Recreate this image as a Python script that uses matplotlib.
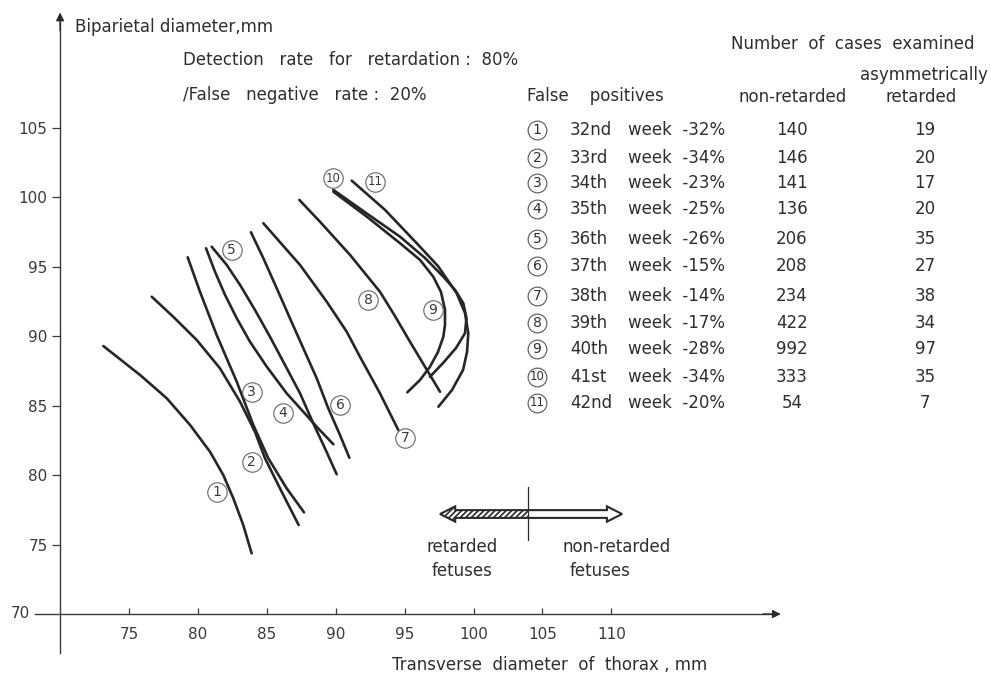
import numpy as np
import matplotlib.pyplot as plt
from matplotlib.patches import Polygon

plt.rcParams['font.family'] = ['DejaVu Sans']
plt.rcParams['hatch.linewidth'] = 1.2

W, H = 991, 676
INK = '#2e2e2e'

# transverse thorax diameter (mm) vs biparietal diameter (mm), one curve per week
w32_x = [73.14, 75.80, 77.74, 79.43, 80.88, 81.84, 82.57, 83.29, 83.90]
w32_y = [89.29, 87.21, 85.53, 83.61, 81.68, 80.01, 78.33, 76.41, 74.37]
w33_x = [76.65, 78.21, 79.91, 81.60, 83.06, 84.14, 84.87, 86.08, 87.31]
w33_y = [92.84, 91.40, 89.73, 87.69, 85.28, 83.12, 81.21, 78.80, 76.41]
w34_x = [79.26, 80.15, 81.36, 82.82, 84.02, 85.11, 86.44, 87.70]
w34_y = [95.68, 93.20, 90.09, 86.72, 83.61, 81.21, 79.05, 77.32]
w35_x = [80.59, 81.24, 81.97, 82.82, 83.78, 85.00, 86.44, 87.65, 88.62, 89.83]
w35_y = [96.33, 94.64, 92.97, 91.29, 89.60, 87.80, 85.89, 84.56, 83.48, 82.22]
w36_x = [81.00, 82.09, 83.06, 84.14, 85.23, 86.32, 87.41, 88.37, 89.22, 90.07]
w36_y = [96.44, 95.13, 93.69, 91.89, 89.96, 87.93, 85.89, 83.73, 81.93, 80.06]
w37_x = [83.85, 84.75, 85.72, 86.68, 87.65, 88.62, 89.46, 90.31, 90.99]
w37_y = [97.48, 95.61, 93.45, 91.29, 89.13, 86.97, 84.81, 82.89, 81.25]
w38_x = [84.75, 87.41, 89.35, 90.80, 91.76, 93.21, 94.54]
w38_y = [98.13, 95.13, 92.48, 90.32, 88.52, 85.89, 83.25]
w39_x = [87.36, 88.86, 91.04, 93.21, 94.30, 95.39, 97.57]
w39_y = [99.81, 98.24, 95.85, 93.20, 91.45, 89.60, 86.00]
w40_x = [89.83, 92.20, 94.67, 96.12, 97.08, 97.64, 97.93, 97.93, 97.81, 97.42, 96.84, 96.12, 95.20]
w40_y = [100.40, 98.65, 96.69, 95.49, 94.28, 93.18, 91.89, 90.81, 89.96, 88.86, 87.80, 86.85, 85.96]
w41_x = [89.83, 92.20, 94.67, 96.48, 97.81, 98.66, 99.26, 99.49, 99.38, 98.73, 97.79, 96.84]
w41_y = [100.53, 98.87, 97.16, 95.63, 94.28, 93.33, 92.37, 91.31, 90.21, 89.15, 88.07, 87.08]
w42_x = [91.16, 93.58, 95.88, 97.42, 98.78, 99.38, 99.62, 99.53, 99.24, 98.44, 97.45]
w42_y = [101.20, 99.09, 96.69, 95.05, 93.09, 91.67, 90.21, 88.86, 87.57, 86.13, 84.92]

curves_x = [w32_x, w33_x, w34_x, w35_x, w36_x, w37_x, w38_x, w39_x, w40_x, w41_x, w42_x]
curves_y = [w32_y, w33_y, w34_y, w35_y, w36_y, w37_y, w38_y, w39_y, w40_y, w41_y, w42_y]

# where the circled curve numbers sit
mark_x = [81.36, 83.90, 83.90, 86.15, 82.45, 90.31, 95.03, 92.37, 97.04, 89.83, 92.85]
mark_y = [78.80, 80.96, 86.00, 84.49, 96.21, 85.05, 82.67, 92.61, 91.89, 101.37, 101.12]

# table on the right
weeks = ['32nd', '33rd', '34th', '35th', '36th', '37th', '38th', '39th', '40th', '41st', '42nd']
false_pos = [32, 34, 23, 25, 26, 15, 14, 17, 28, 34, 20]
n_non_retarded = [140, 146, 141, 136, 206, 208, 234, 422, 992, 333, 54]
n_asym_retarded = [19, 20, 17, 20, 35, 27, 38, 34, 97, 35, 7]
row_y = [130, 158, 183, 209, 239, 266, 296, 323, 349, 377, 403]

xticks = [75, 80, 85, 90, 95, 100, 105, 110]
yticks = [75, 80, 85, 90, 95, 100, 105]

fig = plt.figure(figsize=(W / 100, H / 100), dpi=100)
ax = fig.add_axes([0, 0, 1, 1])
ax.set_xlim(65.64, 137.55)
ax.set_ylim(65.54, 114.20)
ax.patch.set_alpha(0)

for s in ['top', 'right']:
    ax.spines[s].set_visible(False)
ax.spines['left'].set_position(('data', 70))
ax.spines['bottom'].set_position(('data', 70))
ax.spines['left'].set_bounds(67.19, 112.6)
ax.spines['bottom'].set_bounds(68.18, 121.6)
for s in ['left', 'bottom']:
    ax.spines[s].set_color('#3a3a3a')
    ax.spines[s].set_linewidth(1.0)

ax.set_xticks(xticks)
ax.set_yticks(yticks)
ax.tick_params(axis='x', direction='in', length=4, width=0.9, pad=9,
               labelsize=11, colors='#3a3a3a')
ax.tick_params(axis='y', direction='out', length=6, width=0.9, pad=3,
               labelsize=11, colors='#3a3a3a')

# arrow heads on the axes
ax.annotate('', xy=(70, 113.3), xytext=(70, 112.0),
            arrowprops=dict(arrowstyle='-|>', color='#2a2a2a', lw=1.0,
                            mutation_scale=12, shrinkA=0, shrinkB=0))
ax.annotate('', xy=(122.3, 70), xytext=(121.0, 70),
            arrowprops=dict(arrowstyle='-|>', color='#2a2a2a', lw=1.0,
                            mutation_scale=12, shrinkA=0, shrinkB=0))
fig.text(30 / W, 1 - 614 / H, '70', ha='right', va='center', fontsize=11, color='#3a3a3a')

for cx, cy in zip(curves_x, curves_y):
    ax.plot(cx, cy, color='#262626', lw=1.9, solid_capstyle='round', solid_joinstyle='round')

for i, (mx, my) in enumerate(zip(mark_x, mark_y)):
    ax.plot(mx, my, 'o', ms=14, mfc='white', mec='#666666', mew=0.8)
    ax.text(mx, my, str(i + 1), ha='center', va='center', color='#3a3a3a',
            fontsize=10 if i < 9 else 8.5)


def put(x, y, s, **kw):
    kw.setdefault('fontsize', 12)
    kw.setdefault('color', INK)
    kw.setdefault('va', 'center')
    fig.text(x / W, 1 - y / H, s, **kw)


put(75, 27, 'Biparietal diameter,mm')
put(183, 60, 'Detection   rate   for   retardation :  80%')
put(183, 95, '/False   negative   rate :  20%')
put(731, 44, 'Number  of  cases  examined')
put(988, 75, 'asymmetrically', ha='right')
put(527, 96, 'False    positives')
put(738, 97, 'non-retarded')
put(921, 97, 'retarded', ha='center')
put(392, 665, 'Transverse  diameter  of  thorax , mm')

for i in range(len(weeks)):
    y = row_y[i]
    ax.plot([537 / W], [1 - y / H], 'o', ms=13.5, mfc='white', mec='#555555', mew=0.8,
            transform=fig.transFigure, clip_on=False)
    put(537, y, str(i + 1), ha='center', fontsize=10 if i < 9 else 8.5)
    put(570, y, weeks[i])
    put(628, y, 'week  -%d%%' % false_pos[i])
    put(792, y, str(n_non_retarded[i]), ha='center')
    put(925, y, str(n_asym_retarded[i]), ha='center')

# double arrow: retarded (hatched) vs non-retarded (open)
yc, hh, sh = 77.20, 0.55, 0.28
xl, xm, xr, hl = 97.57, 103.95, 110.78, 1.1
outline = [(xl, yc), (xl + hl, yc + hh), (xl + hl, yc + sh), (xr - hl, yc + sh),
           (xr - hl, yc + hh), (xr, yc), (xr - hl, yc - hh), (xr - hl, yc - sh),
           (xl + hl, yc - sh), (xl + hl, yc - hh)]
left = [(xl, yc), (xl + hl, yc + hh), (xl + hl, yc + sh), (xm, yc + sh),
        (xm, yc - sh), (xl + hl, yc - sh), (xl + hl, yc - hh)]
ax.add_patch(Polygon(left, closed=True, facecolor='white', edgecolor='#2a2a2a',
                     hatch='//////', lw=0))
ax.add_patch(Polygon(outline, closed=True, fill=False, edgecolor='#2a2a2a', lw=1.5))
ax.plot([xm, xm], [75.33, 79.14], color='#2a2a2a', lw=0.9)

put(462, 547, 'retarded', ha='center')
put(462, 571, 'fetuses', ha='center')
put(617, 547, 'non-retarded', ha='center')
put(600, 571, 'fetuses', ha='center')

fig.savefig('out.png', dpi=100, facecolor='white')
